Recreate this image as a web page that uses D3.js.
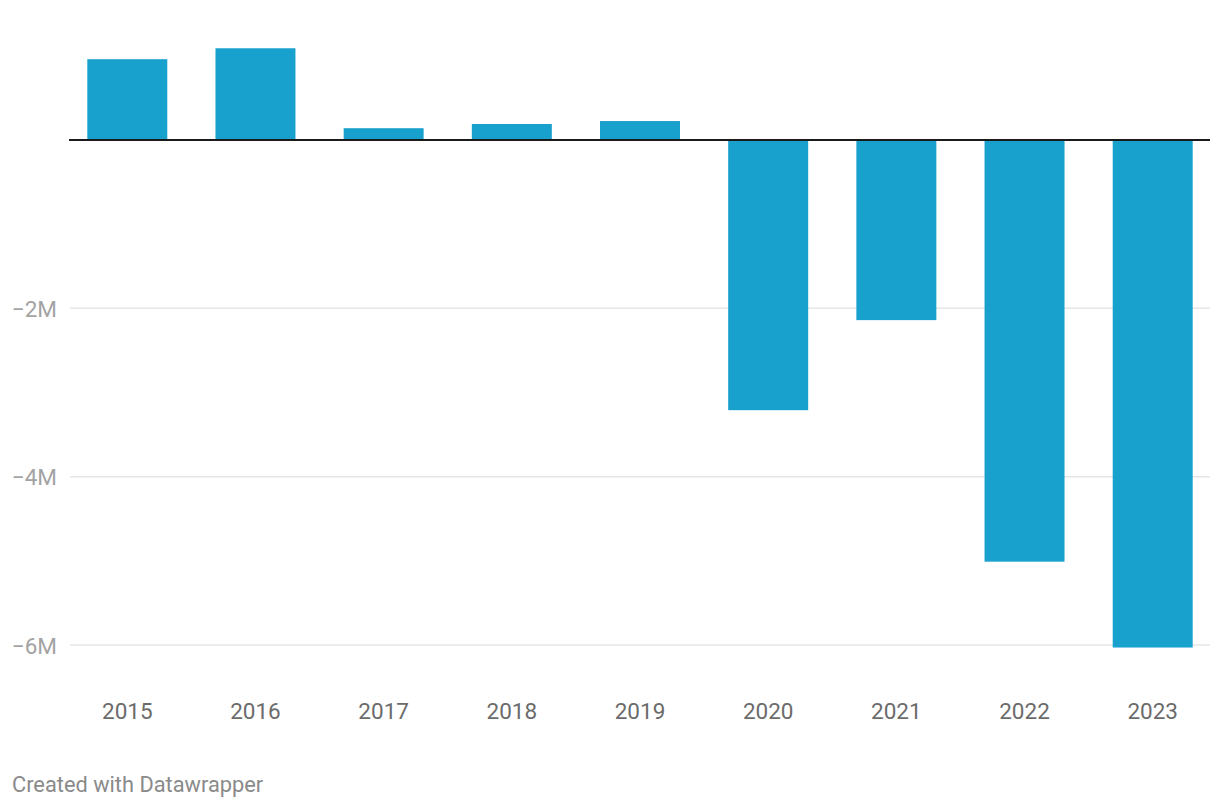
<!DOCTYPE html>
<html><head><meta charset="utf-8">
<script src="https://cdn.jsdelivr.net/npm/d3@7"></script>
<style>
html,body{margin:0;padding:0;background:#fff;}
svg{display:block;font-family:Roboto, sans-serif;}
</style></head>
<body>
<svg id="chart" width="1220" height="808"></svg>
<script>
const years = ["2015","2016","2017","2018","2019","2020","2021","2022","2023"];
const values = [960000, 1090000, 140000, 190000, 225000, -3210000, -2140000, -5010000, -6030000];
const yTicks = [-2000000, -4000000, -6000000];
const yTickLabels = ["\u22122M", "\u22124M", "\u22126M"];
const credit = "Created with Datawrapper";

const svg = d3.select("#chart");
const plotLeft = 69, plotRight = 1210;

const x = d3.scaleBand().domain(years).range([plotLeft + 1, plotRight])
  .paddingInner(0.376).paddingOuter(0.135);
const y = d3.scaleLinear().domain([0, -6000000]).range([140, 645]);

// grid lines
svg.append("g").selectAll("line").data(yTicks).join("line")
  .attr("x1", 70).attr("x2", plotRight)
  .attr("y1", d => y(d)).attr("y2", d => y(d))
  .attr("stroke", "#e6e6e6").attr("stroke-width", 1.5);

// y tick labels
svg.append("g").selectAll("text").data(yTicks).join("text")
  .attr("x", 57).attr("y", d => y(d) + 8.5)
  .attr("text-anchor", "end")
  .attr("font-size", 22.5).attr("fill", "#a3a3a3")
  .text((d, i) => yTickLabels[i]);

// bars
svg.append("g").selectAll("rect").data(values).join("rect")
  .attr("x", (d, i) => x(years[i]))
  .attr("width", x.bandwidth())
  .attr("y", d => Math.min(y(d), y(0)))
  .attr("height", d => Math.abs(y(d) - y(0)))
  .attr("fill", "#18a1cd");

// zero line
svg.append("line")
  .attr("x1", plotLeft).attr("x2", plotRight)
  .attr("y1", y(0)).attr("y2", y(0))
  .attr("stroke", "#1a1a1a").attr("stroke-width", 2);

// x labels
svg.append("g").selectAll("text").data(years).join("text")
  .attr("x", d => x(d) + x.bandwidth() / 2)
  .attr("y", 719)
  .attr("text-anchor", "middle")
  .attr("font-size", 22.5).attr("fill", "#6b6b6b")
  .text(d => d);

// credit
svg.append("text").attr("x", 12).attr("y", 792)
  .attr("font-size", 21.8).attr("fill", "#8a8a8a")
  .text(credit);
</script>
</body></html>
